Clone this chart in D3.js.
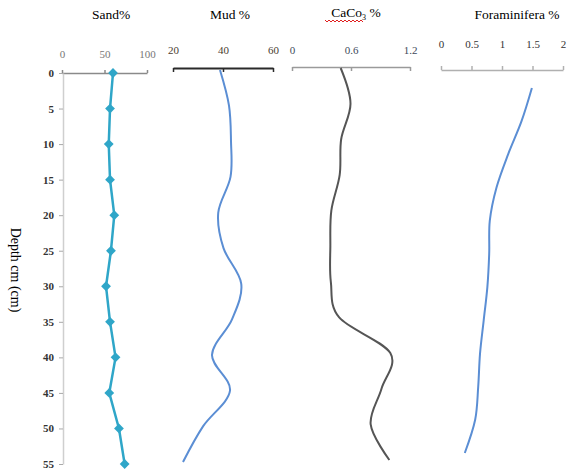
<!DOCTYPE html>
<html>
<head>
<meta charset="utf-8">
<script src="https://cdn.jsdelivr.net/npm/d3@7"></script>
<style>
  body { margin: 0; background: #fff; }
  svg { display: block; font-family: "Liberation Serif", "Times New Roman", serif; }
  svg text { font-family: "Liberation Serif", "Times New Roman", serif; }
</style>
</head>
<body>
<svg width="573" height="475"></svg>
<script>
// depth of each sample (cm)
const depths = [0, 5, 10, 15, 20, 25, 30, 35, 40, 45, 50, 55];

// values
const sand = [60, 56.5, 55, 56.5, 61.5, 57.6, 51.8, 56.5, 63, 55.6, 67, 73.7];
const mud = [38.8, 42.4, 43.2, 43, 38.1, 40.2, 47.3, 43.6, 35.6, 42.8, 32, 24];
const caco3 = [0.495, 0.595, 0.5, 0.485, 0.4, 0.39, 0.395, 0.48, 1.0, 0.91, 0.8, 0.99];
const foram = [1.49, 1.32, 1.1, 0.91, 0.8, 0.79, 0.76, 0.7, 0.64, 0.61, 0.56, 0.39];

const sandTicks = [0, 50, 100];
const mudTicks = [20, 40, 60];
const caco3Ticks = [0, 0.6, 1.2];
const foramTicks = [0, 0.5, 1, 1.5, 2];

const svg = d3.select("svg");

// panel settings (each one is its own little chart)
const panels = [
  { name: "sand", values: sand, ticks: sandTicks, domain: [0, 100], xr: [62, 147], yr: [73, 464], axisY: 73,
    tickSize: 3, pad: 12, axisColor: "#8a8a8a", labelColor: "#777", line: "#2fa6c8", width: 2.5, smooth: false },
  { name: "mud", values: mud, ticks: mudTicks, domain: [20, 60], xr: [173, 273], yr: [70, 462], axisY: 68,
    tickSize: -4, pad: 14, axisColor: "#2a2a2a", labelColor: "#4a4030", line: "#5b8ed4", width: 2, smooth: true },
  { name: "caco3", values: caco3, ticks: caco3Ticks, domain: [0, 1.2], xr: [292, 410], yr: [68, 460], axisY: 67,
    tickSize: -4, pad: 13, axisColor: "#9a9a9a", labelColor: "#3d4a5a", line: "#555", width: 2, smooth: true },
  { name: "foram", values: foram, ticks: foramTicks, domain: [0, 2], xr: [441, 563], yr: [88, 453], axisY: 70,
    tickSize: 4, pad: 18, axisColor: "#b0b0b0", labelColor: "#333", line: "#5b8ed4", width: 2, smooth: true }
];

panels.forEach(function (p) {
  const x = d3.scaleLinear().domain(p.domain).range(p.xr);
  const y = d3.scaleLinear().domain([0, 55]).range(p.yr);

  const ax = svg.append("g")
    .attr("transform", "translate(0," + p.axisY + ")")
    .call(d3.axisTop(x).tickValues(p.ticks).tickSizeInner(p.tickSize).tickSizeOuter(0).tickPadding(p.pad)
      .tickFormat(d3.format("")));
  ax.attr("font-family", null).attr("font-size", null);
  ax.select(".domain").attr("stroke", p.axisColor).attr("stroke-width", p.name === "mud" ? 2 : 1.5);
  ax.selectAll(".tick line").attr("stroke", p.axisColor).attr("stroke-width", 1.5);
  ax.selectAll("text").attr("fill", p.labelColor).style("font-size", "11px");

  const line = d3.line()
    .x(function (d, i) { return x(p.values[i]); })
    .y(function (d) { return y(d); })
    .curve(p.smooth ? d3.curveCatmullRom.alpha(0) : d3.curveLinear);

  svg.append("path")
    .datum(depths)
    .attr("d", line)
    .attr("fill", "none")
    .attr("stroke", p.line)
    .attr("stroke-width", p.width)
    .attr("stroke-linejoin", "round");

  if (p.name === "sand") {
    // depth axis on the left of the sand panel
    const ay = svg.append("g")
      .attr("transform", "translate(63,0)")
      .call(d3.axisLeft(y).tickValues(depths).tickSizeInner(4).tickSizeOuter(0).tickPadding(5));
    ay.attr("font-family", null).attr("font-size", null);
    ay.select(".domain").attr("stroke", "#cfcfcf").attr("stroke-width", 1.5);
    ay.selectAll(".tick line").attr("stroke", "#aaa");
    ay.selectAll("text").attr("fill", "#333").style("font-size", "11px").style("font-weight", "bold");

    svg.selectAll(".sandpt")
      .data(depths)
      .enter()
      .append("path")
      .attr("class", "sandpt")
      .attr("d", d3.symbol().type(d3.symbolSquare).size(48))
      .attr("transform", function (d, i) {
        return "translate(" + x(sand[i]) + "," + y(d) + ") rotate(45)";
      })
      .attr("fill", "#2fa6c8");
  }
});

// titles
const titles = svg.append("g").style("font-size", "13.5px").attr("fill", "#000").attr("text-anchor", "middle");
titles.append("text").attr("x", 111).attr("y", 19).text("Sand%");
titles.append("text").attr("x", 230).attr("y", 19).text("Mud %");
const ct = titles.append("text").attr("x", 356).attr("y", 17);
ct.append("tspan").text("CaCo");
ct.append("tspan").text("3").style("font-size", "8px").attr("dy", 3);
ct.append("tspan").text(" %").attr("dy", -3);
titles.append("text").attr("x", 517).attr("y", 19).text("Foraminifera %");

// red spell-check squiggle under CaCo3
const sq = [];
for (let xx = 325; xx <= 363; xx += 2) sq.push([xx, (xx - 325) % 4 === 0 ? 20 : 22]);
svg.append("path").attr("d", d3.line()(sq)).attr("fill", "none").attr("stroke", "#e02020").attr("stroke-width", 1);

// depth label
svg.append("text")
  .attr("transform", "translate(11,270) rotate(90)")
  .attr("text-anchor", "middle")
  .style("font-size", "14px")
  .text("Depth cm (cm)");
</script>
</body>
</html>
